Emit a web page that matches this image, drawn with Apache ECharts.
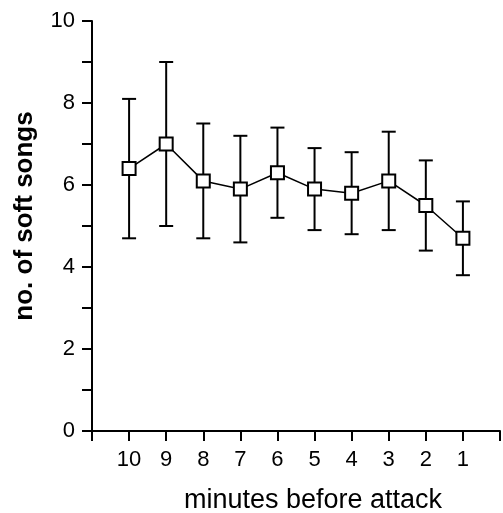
<!DOCTYPE html>
<html>
<head>
<meta charset="utf-8">
<script src="https://cdn.jsdelivr.net/npm/echarts@6/dist/echarts.min.js"></script>
<style>
  html, body { margin: 0; padding: 0; background: #fff; }
  #chart { width: 503px; height: 513px; }
</style>
</head>
<body>
<div id="chart"></div>
<script>
// minutes before attack, left to right
const minutes = ['10', '9', '8', '7', '6', '5', '4', '3', '2', '1'];
const means = [6.4, 7.0, 6.1, 5.9, 6.3, 5.9, 5.8, 6.1, 5.5, 4.7];
const upper = [8.1, 9.0, 7.5, 7.2, 7.4, 6.9, 6.8, 7.3, 6.6, 5.6];
const lower = [4.7, 5.0, 4.7, 4.6, 5.2, 4.9, 4.8, 4.9, 4.4, 3.8];
const yTicks = [0, 2, 4, 6, 8, 10];

// empty slot at each end so the axis has a tick before 10 and after 1
const cats = ['start'].concat(minutes, ['end']);
const font = "'Liberation Sans', Arial, sans-serif";

const chart = echarts.init(document.getElementById('chart'));

const errData = minutes.map((m, i) => [i + 1, lower[i], upper[i]]);
const lineData = minutes.map((m, i) => [i + 1, means[i]]);

chart.setOption({
  animation: false,
  grid: { left: 92, right: 1, top: 21, bottom: 82 },
  xAxis: {
    type: 'category',
    data: cats,
    boundaryGap: false,
    axisLine: { lineStyle: { color: '#000', width: 2 } },
    axisTick: { show: true, length: 10, interval: 0, lineStyle: { color: '#000', width: 2 } },
    axisLabel: {
      interval: 0,
      margin: 18,
      color: '#000',
      fontSize: 22,
      fontFamily: font,
      formatter: v => (v === 'start' || v === 'end') ? '' : v
    },
    splitLine: { show: false }
  },
  yAxis: {
    type: 'value',
    min: 0,
    max: 10,
    interval: 1,
    axisLine: { show: true, lineStyle: { color: '#000', width: 2 } },
    axisTick: { show: true, length: 10, lineStyle: { color: '#000', width: 2 } },
    axisLabel: {
      margin: 17,
      color: '#000',
      fontSize: 22,
      fontFamily: font,
      formatter: v => yTicks.indexOf(v) >= 0 ? String(v) : ''
    },
    splitLine: { show: false }
  },
  graphic: [
    {
      type: 'text',
      x: 25, y: 216,
      rotation: Math.PI / 2,
      style: {
        text: 'no. of soft songs',
        font: 'bold 26px ' + font,
        fill: '#000',
        textAlign: 'center',
        textVerticalAlign: 'middle'
      }
    },
    {
      type: 'text',
      x: 313, y: 501,
      style: {
        text: 'minutes before attack',
        font: '27px ' + font,
        fill: '#000',
        textAlign: 'center',
        textVerticalAlign: 'middle'
      }
    }
  ],
  series: [
    {
      type: 'custom',
      data: errData,
      z: 1,
      renderItem: function (params, api) {
        const x = api.value(0);
        const lo = api.coord([x, api.value(1)]);
        const hi = api.coord([x, api.value(2)]);
        const w = 7;
        const st = { stroke: '#000', lineWidth: 2 };
        return {
          type: 'group',
          children: [
            { type: 'line', shape: { x1: lo[0], y1: lo[1], x2: hi[0], y2: hi[1] }, style: st },
            { type: 'line', shape: { x1: hi[0] - w, y1: hi[1], x2: hi[0] + w, y2: hi[1] }, style: st },
            { type: 'line', shape: { x1: lo[0] - w, y1: lo[1], x2: lo[0] + w, y2: lo[1] }, style: st }
          ]
        };
      }
    },
    {
      type: 'line',
      data: lineData,
      z: 3,
      symbol: 'rect',
      symbolSize: 13,
      showAllSymbol: true,
      lineStyle: { color: '#000', width: 1.5 },
      itemStyle: { color: '#fff', borderColor: '#000', borderWidth: 2 }
    }
  ]
});
</script>
</body>
</html>
